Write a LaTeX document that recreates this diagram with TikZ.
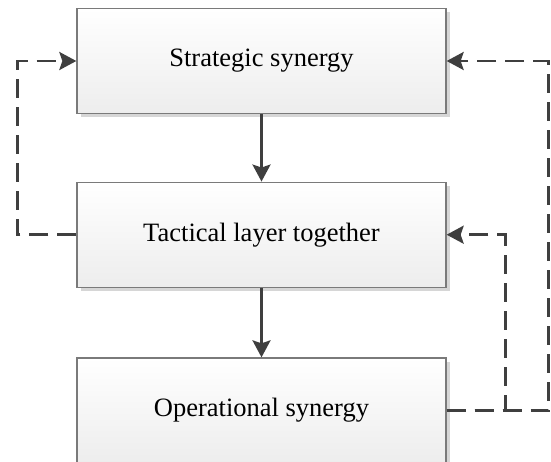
\documentclass[tikz,border=0pt]{standalone}
\usepackage{fontspec}
\setmainfont{Liberation Serif}
\usetikzlibrary{arrows.meta,shadows}
\definecolor{boxline}{HTML}{7A7A7A}
\definecolor{boxbottom}{HTML}{EDEDED}
\definecolor{shadowgray}{HTML}{D6D6D6}
\definecolor{linegray}{HTML}{3F3F3F}
\tikzset{
  layer/.style={draw=boxline, line width=1.3pt, top color=white, bottom color=boxbottom,
    minimum width=369pt, minimum height=105pt, inner sep=0pt,
    font=\fontsize{26.5}{30}\selectfont,
    drop shadow={shadow xshift=3.5pt, shadow yshift=-3.5pt, fill=shadowgray, opacity=1}},
  flow/.style={draw=linegray, line width=2.7pt, -{Stealth[length=17pt,width=18pt,inset=3pt]}},
  feedback/.style={flow, dash pattern=on 19pt off 9pt},
}
\begin{document}
\begin{tikzpicture}[x=1pt, y=-1pt]
  \useasboundingbox (0,0) rectangle (551,461);
  \clip (0,0) rectangle (551,461);
  % three synergy layers
  \node[layer] (s) at (261.5,61)    {Strategic synergy};
  \node[layer] (m) at (261.5,234.7) {Tactical layer together};
  \node[layer] (o) at (261.5,410.5) {Operational synergy};
  % top-down flow
  \draw[flow] (s.south) -- (m.north);
  \draw[flow] (m.south) -- (o.north);
  % feedback loops
  \draw[feedback] (m.west) -- ++(-59,0) |- (s.west);
  \draw[feedback] (o.east) -- ++(102,0) |- (s.east);
  \draw[feedback] (o.east) -- ++(59,0) |- (m.east);
\end{tikzpicture}
\end{document}
